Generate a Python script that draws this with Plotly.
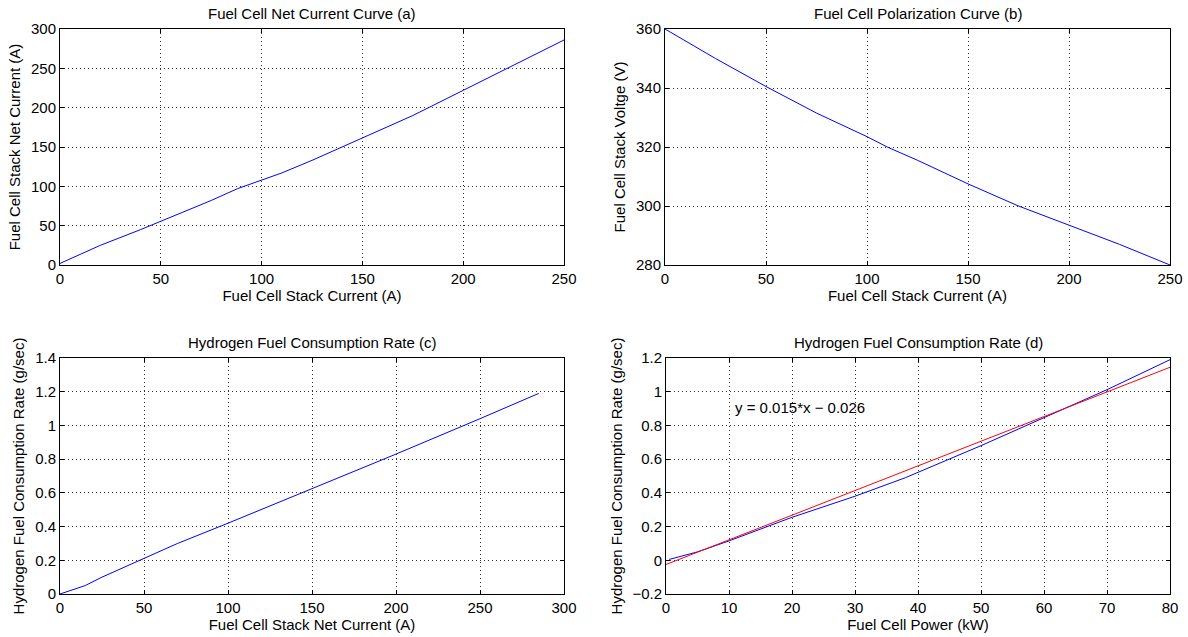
import plotly.graph_objects as go

# (a) Net current vs stack current
a_x = [0, 10, 20, 40, 62, 75, 88, 100, 110, 125, 150, 175, 200, 225, 250]
a_y = [2, 14, 25, 45, 68, 82, 97, 108, 117, 133, 162, 190, 222, 254, 286]

# (b) Polarization curve
b_x = [0, 25, 50, 75, 100, 110, 125, 150, 175, 200, 225, 250]
b_y = [360, 350, 340.5, 331.5, 323.5, 320, 315.5, 307.5, 300, 293.5, 287, 280]

# (c) H2 consumption vs net current
c_x = [0, 15, 25, 50, 70, 100, 150, 200, 250, 285]
c_y = [0, 0.05, 0.1, 0.21, 0.3, 0.42, 0.625, 0.83, 1.04, 1.19]

# (d) H2 consumption vs power, with linear fit
d_x = [0.5, 5, 10, 20, 30, 38, 50, 60, 65, 70, 80]
d_y = [0.005, 0.05, 0.115, 0.255, 0.38, 0.49, 0.68, 0.845, 0.925, 1.012, 1.19]
fit_x = [0, 80]
fit_y = [-0.025, 1.145]
fit_label = "y = 0.015*x \u2212 0.026"

titles = ["Fuel Cell Net Current Curve (a)", "Fuel Cell Polarization Curve (b)",
          "Hydrogen Fuel Consumption Rate (c)", "Hydrogen Fuel Consumption Rate (d)"]
xlabels = ["Fuel Cell Stack Current (A)", "Fuel Cell Stack Current (A)",
           "Fuel Cell Stack Net Current (A)", "Fuel Cell Power (kW)"]
ylabels = ["Fuel Cell Stack Net Current (A)", "Fuel Cell Stack Voltge (V)",
           "Hydrogen Fuel Consumption Rate (g/sec)", "Hydrogen Fuel Consumption Rate (g/sec)"]

W, H = 1188, 637
FONT = "Liberation Sans, Arial, Helvetica, sans-serif"

# pixel boxes (left, right, top, bottom)
boxes = [(60, 564, 29, 265), (665, 1170, 29, 265), (60, 564, 358, 594), (666, 1170, 358, 594)]
xranges = [[0, 250], [0, 250], [0, 300], [0, 80]]
yranges = [[0, 300], [280, 360], [0, 1.4], [-0.2, 1.2]]
xdtick = [50, 50, 50, 10]
ydtick = [50, 20, 0.2, 0.2]

fig = go.Figure()
blue = "#0000ff"
red = "#ff0000"
fig.add_trace(go.Scatter(x=a_x, y=a_y, mode="lines", line=dict(color=blue, width=1), xaxis="x", yaxis="y"))
fig.add_trace(go.Scatter(x=b_x, y=b_y, mode="lines", line=dict(color=blue, width=1), xaxis="x2", yaxis="y2"))
fig.add_trace(go.Scatter(x=c_x, y=c_y, mode="lines", line=dict(color=blue, width=1), xaxis="x3", yaxis="y3"))
fig.add_trace(go.Scatter(x=d_x, y=d_y, mode="lines", line=dict(color=blue, width=1), xaxis="x4", yaxis="y4"))
fig.add_trace(go.Scatter(x=fit_x, y=fit_y, mode="lines", line=dict(color=red, width=1), xaxis="x4", yaxis="y4"))

layout = dict(width=W, height=H, margin=dict(l=0, r=0, t=0, b=0), showlegend=False,
              plot_bgcolor="white", paper_bgcolor="white",
              font=dict(family=FONT, size=15, color="#000"))
annotations = []
for i, (l, r, t, b) in enumerate(boxes):
    sx = "" if i == 0 else str(i + 1)
    common = dict(showline=True, linecolor="#000", linewidth=1, mirror="ticks",
                  ticks="inside", ticklen=4, tickcolor="#000", tickwidth=1,
                  showgrid=True, gridcolor="#333", griddash="1px,3px", gridwidth=1,
                  zeroline=False, automargin=False,
                  tickfont=dict(family=FONT, size=15, color="#000"))
    layout["xaxis" + sx] = dict(common, domain=[l / W, r / W], range=xranges[i], dtick=xdtick[i],
                                tick0=0, anchor="y" + sx,
                                title=dict(text=xlabels[i], standoff=4, font=dict(family=FONT, size=15)))
    layout["yaxis" + sx] = dict(common, domain=[1 - b / H, 1 - t / H], range=yranges[i], dtick=ydtick[i],
                                tick0=0, anchor="x" + sx,
                                title=dict(text=ylabels[i], standoff=6, font=dict(family=FONT, size=15)))
    annotations.append(dict(text=titles[i], x=(l + r) / 2 / W, y=1 - (t - 16) / H, xref="paper", yref="paper",
                            showarrow=False, xanchor="center", yanchor="middle",
                            font=dict(family=FONT, size=15, color="#000")))
annotations.append(dict(text=fit_label, x=10.6, y=0.905, xref="x4", yref="y4", showarrow=False,
                        xanchor="left", yanchor="middle", font=dict(family=FONT, size=15, color="#000")))
layout["annotations"] = annotations
fig.update_layout(**layout)
fig.write_html("out.html", config={"responsive": False, "displayModeBar": False},
               post_script="document.body.style.margin='0';document.body.style.overflow='hidden';")
